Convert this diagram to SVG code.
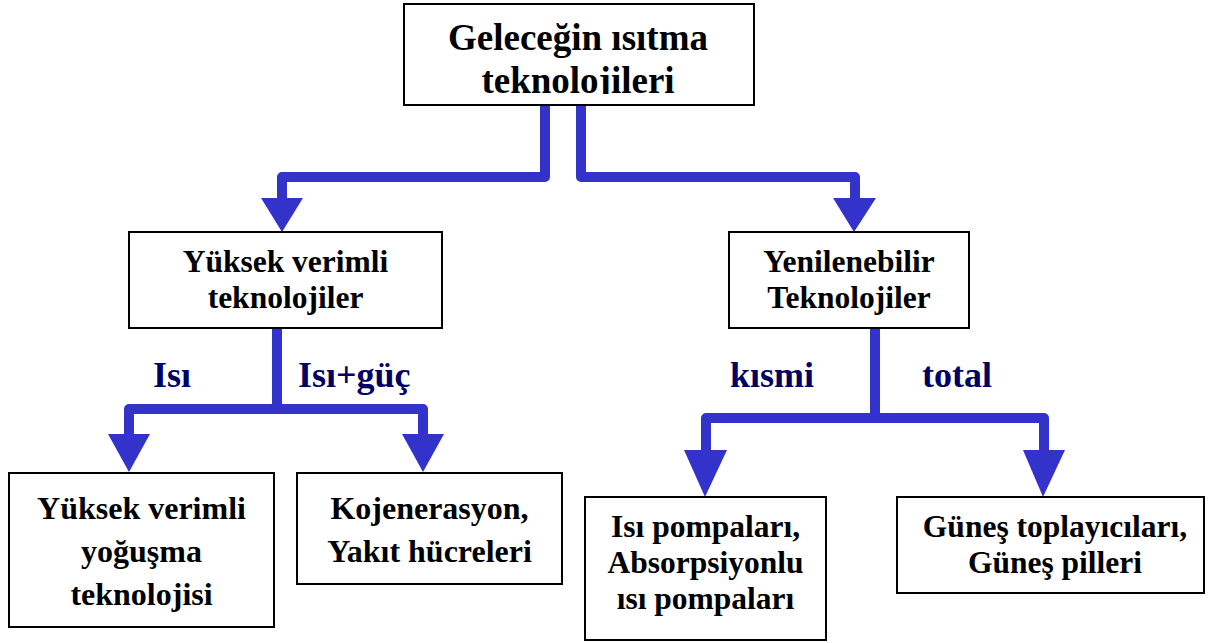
<svg xmlns="http://www.w3.org/2000/svg" width="1208" height="643" viewBox="0 0 1208 643">
<style>
.box{fill:#fff;stroke:#000;stroke-width:2}
.t{font-weight:bold;fill:#000;text-anchor:middle}
.lbl{font-weight:bold;fill:#000066;font-size:36px}
.ln{fill:none;stroke:#3333CC;stroke-width:10;stroke-linejoin:round}
.ah{fill:#3333CC}
</style>
<defs>
<clipPath id="topclip"><rect x="404" y="4" width="350" height="90"/></clipPath>
</defs>
<rect width="1208" height="643" fill="#fff"/>
<g id="connectors">
<path class="ln" d="M545,105 V177 H282 V200"/>
<path class="ln" d="M581,105 V177 H855 V200"/>
<polygon class="ah" points="261,198 303,198 282,232"/>
<polygon class="ah" points="833,198 876,198 854,232"/>
<path class="ln" d="M129,436 V409 H423 V436"/>
<path class="ln" d="M277,328 V409"/>
<polygon class="ah" points="108,434 150,434 129,472"/>
<polygon class="ah" points="402,434 444,434 423,472"/>
<path class="ln" d="M706,452 V418 H1044 V452"/>
<path class="ln" d="M875,328 V418"/>
<polygon class="ah" points="684,450 727,450 705,497"/>
<polygon class="ah" points="1023,450 1065,450 1043,497"/>
</g>
<g id="labels" font-family="Liberation Serif, DejaVu Serif, serif">
<text class="lbl" x="153" y="387">Isı</text>
<text class="lbl" x="298" y="387">Isı+güç</text>
<text class="lbl" x="730" y="387">kısmi</text>
<text class="lbl" x="922" y="387">total</text>
</g>
<g id="node-root" font-family="Liberation Serif, DejaVu Serif, serif">
<rect class="box" x="404" y="4" width="350" height="101"/>
<g clip-path="url(#topclip)">
<text class="t" font-size="37" x="578" y="50">Geleceğin ısıtma</text>
<text class="t" font-size="37" x="578" y="93">teknolojileri</text>
</g>
</g>
<g id="node-yuksek" font-family="Liberation Serif, DejaVu Serif, serif">
<rect class="box" x="129" y="232" width="313" height="96"/>
<text class="t" font-size="31.5" x="285.5" y="272">Yüksek verimli</text>
<text class="t" font-size="31.5" x="285.5" y="308">teknolojiler</text>
</g>
<g id="node-yenilenebilir" font-family="Liberation Serif, DejaVu Serif, serif">
<rect class="box" x="729" y="232" width="240" height="96"/>
<text class="t" font-size="31.5" x="849" y="272">Yenilenebilir</text>
<text class="t" font-size="31.5" x="849" y="308">Teknolojiler</text>
</g>
<g id="node-yogusma" font-family="Liberation Serif, DejaVu Serif, serif">
<rect class="box" x="9" y="473" width="265" height="154"/>
<text class="t" font-size="32" x="141.5" y="519">Yüksek verimli</text>
<text class="t" font-size="32" x="141.5" y="562">yoğuşma</text>
<text class="t" font-size="32" x="141.5" y="605">teknolojisi</text>
</g>
<g id="node-kojenerasyon" font-family="Liberation Serif, DejaVu Serif, serif">
<rect class="box" x="297" y="473" width="265" height="111"/>
<text class="t" font-size="32" x="429.5" y="519">Kojenerasyon,</text>
<text class="t" font-size="32" x="429.5" y="562">Yakıt hücreleri</text>
</g>
<g id="node-isipompa" font-family="Liberation Serif, DejaVu Serif, serif">
<rect class="box" x="585" y="497" width="241" height="143"/>
<text class="t" font-size="31.5" x="705.5" y="537">Isı pompaları,</text>
<text class="t" font-size="31.5" x="705.5" y="573">Absorpsiyonlu</text>
<text class="t" font-size="31.5" x="705.5" y="609">ısı pompaları</text>
</g>
<g id="node-gunes" font-family="Liberation Serif, DejaVu Serif, serif">
<rect class="box" x="897" y="497" width="307" height="96"/>
<text class="t" font-size="31.5" x="1055" y="537">Güneş toplayıcıları,</text>
<text class="t" font-size="31.5" x="1055" y="573">Güneş pilleri</text>
</g>
</svg>
